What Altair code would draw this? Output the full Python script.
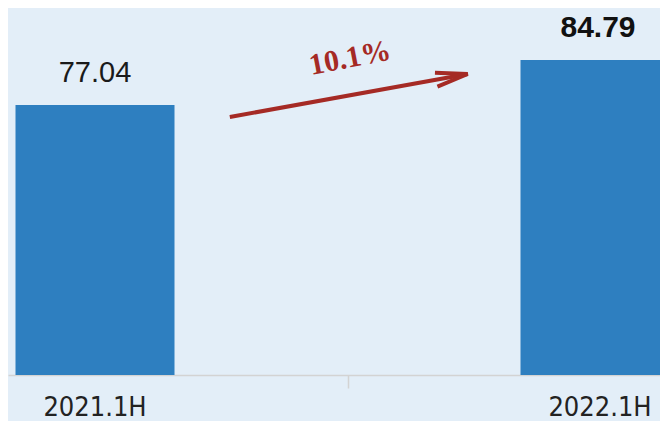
import altair as alt
import pandas as pd

periods = ["2021.1H", "2022.1H"]
values = [77.04, 84.79]
positions = [0, 1]
growth_text = ["10.1%"]
# arrow annotation, in data units (x index, y value)
arrow_x = [0.267, 0.738]
arrow_y = [74.97, 82.38]
growth_x = [0.505]
growth_y = [85.1]

bars_df = pd.DataFrame({"period": periods, "value": values, "pos": positions})
arrow_df = pd.DataFrame({"x": arrow_x, "y": arrow_y, "order": [0, 1]})
tip_df = pd.DataFrame({"x": arrow_x[-1:], "y": arrow_y[-1:]})
growth_df = pd.DataFrame({"x": growth_x, "y": growth_y, "label": growth_text})

W, H = 652, 367
xscale = alt.Scale(domain=[-0.17228, 1.11881], nice=False, zero=False, padding=0)
yscale = alt.Scale(domain=[30.54, 93.745], nice=False, zero=False, padding=0)

BLUE = "#2E7FC0"
RED = "#A52A25"

base = alt.Chart(bars_df)

bars = base.mark_bar(color=BLUE, size=159, clip=True).encode(
    x=alt.X("pos:Q", scale=xscale,
            axis=alt.Axis(values=[0.5], labels=False, title=None, grid=False,
                          domainColor="#D3D3D3", domainWidth=1.5,
                          tickColor="#D3D3D3", tickWidth=1.5, tickSize=13)),
    y=alt.Y("value:Q", scale=yscale, axis=None),
    y2=alt.value(H),
)

label_reg = base.transform_filter("datum.pos == 0").mark_text(
    font="Liberation Sans, Arial, sans-serif", fontSize=29, color="#1a1a1a",
    baseline="alphabetic", dy=-23, align="center"
).encode(
    x=alt.X("pos:Q", scale=xscale), y=alt.Y("value:Q", scale=yscale),
    text=alt.Text("value:Q", format=".2f"),
)

label_bold = base.transform_filter("datum.pos == 1").mark_text(
    font="Liberation Sans, Arial, sans-serif", fontSize=30, fontWeight="bold",
    color="#111111", baseline="alphabetic", dy=-23, align="center", dx=-2
).encode(
    x=alt.X("pos:Q", scale=xscale), y=alt.Y("value:Q", scale=yscale),
    text=alt.Text("value:Q", format=".2f"),
)

xlabels = base.mark_text(
    font="DejaVu Sans Condensed, sans-serif",
    fontSize=27, color="#222222", baseline="alphabetic", align="center"
).encode(
    x=alt.X("pos:Q", scale=xscale),
    y=alt.value(408),
    text="period:N",
)

arrow_line = alt.Chart(arrow_df).mark_line(color=RED, strokeWidth=4, strokeCap="butt").encode(
    x=alt.X("x:Q", scale=xscale), y=alt.Y("y:Q", scale=yscale), order="order:Q"
)

arrow_head = alt.Chart(tip_df).mark_point(
    shape="M -1 -0.22 L 0 0 L -1 0.22", filled=False, stroke=RED, strokeWidth=4,
    size=4096, angle=349.8, opacity=1, strokeJoin="miter"
).encode(
    x=alt.X("x:Q", scale=xscale), y=alt.Y("y:Q", scale=yscale)
)

growth = alt.Chart(growth_df).mark_text(
    font="Liberation Serif, Times New Roman, serif", fontSize=30, fontWeight="bold",
    color=RED, angle=349, align="center", baseline="middle"
).encode(
    x=alt.X("x:Q", scale=xscale), y=alt.Y("y:Q", scale=yscale), text="label:N"
)

chart = alt.layer(bars, label_reg, label_bold, xlabels, arrow_line, arrow_head, growth).properties(
    width=W, height=H,
    background="#E3EEF8",
    padding={"left": 0, "top": 0, "right": 0, "bottom": 46},
    autosize=alt.AutoSizeParams(type="none"),
).configure_view(stroke=None)

chart.save("out.html", embed_options={"renderer": "svg", "actions": False})
